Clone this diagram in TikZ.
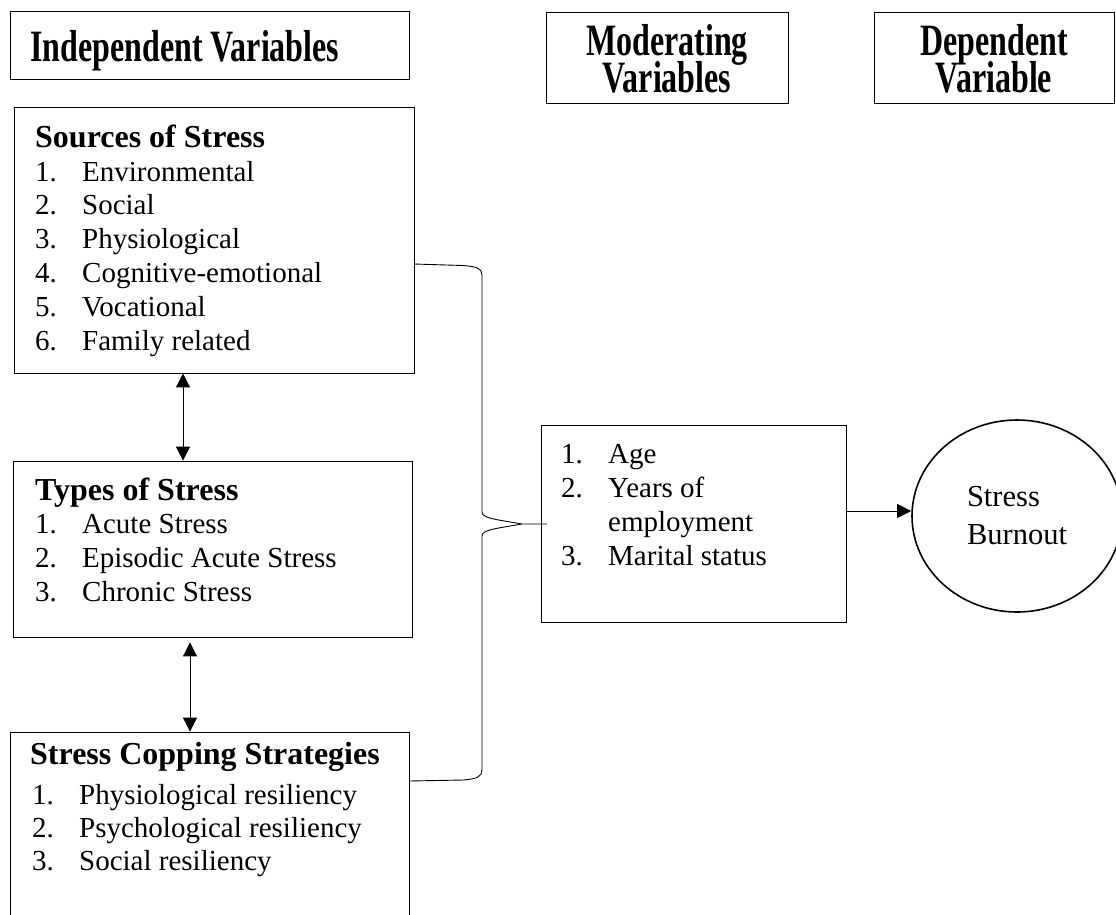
\documentclass[tikz,border=0pt]{standalone}
\usepackage{fontspec}
\setmainfont{Liberation Serif}
\usepackage{graphicx}
\usetikzlibrary{arrows.meta,shapes.geometric,shadows}
\newcommand\lstitem[2]{\makebox[47pt][l]{#1}#2}
\newcommand\tightlines{\setlength{\lineskiplimit}{-60pt}}
\begin{document}
\begin{tikzpicture}[x=1pt,y=-1pt,
  frame/.style={draw, line width=0.9pt, inner sep=0pt, fill=white},
  hframe/.style={frame, drop shadow={shadow xshift=1.3pt, shadow yshift=-1.3pt, fill=black!70, opacity=1}},
  body/.style={inner sep=0pt, anchor=base west, font=\fontsize{29}{34}\selectfont},
  ttl/.style={inner sep=0pt, anchor=base west, font=\fontsize{32}{38}\selectfont\bfseries},
  hdr/.style={inner sep=0pt, align=center, font={\fontsize{32}{37}\selectfont\bfseries\tightlines}},
  brace/.style={line width=0.9pt},
  arr/.style={line width=1pt, -{Triangle[length=14pt,width=14pt]}},
  dblarr/.style={line width=1pt, {Triangle[length=14pt,width=14pt]}-{Triangle[length=14pt,width=14pt]}}
]
\useasboundingbox (0,0) rectangle (1116,914);

% headers
\node[hframe, minimum width=399pt, minimum height=68pt] (h1) at (209.5,45) {};
\node[hdr, anchor=base west] (h1t) at (30,61) {\scalebox{1}[1.4]{Independent Variables}};
\node[hframe, minimum width=242pt, minimum height=91pt] (h2) at (667,57.5) {};
\node[hdr] (h2t) at (667,58.4) {\scalebox{1}[1.4]{Moderating}\\\scalebox{1}[1.4]{Variables}};
\node[hframe, minimum width=240pt, minimum height=91pt] (h3) at (994,57.5) {};
\node[hdr] (h3t) at (994,58.4) {\scalebox{1}[1.4]{Dependent}\\\scalebox{1}[1.4]{Variable}};

% sources of stress
\node[frame, minimum width=400pt, minimum height=266pt] (src) at (214,240) {};
\node[ttl] (s0) at (35,147) {Sources of Stress};
\foreach \nn/\txt/\yy in {1/Environmental/181, 2/Social/214, 3/Physiological/248, 4/Cognitive-emotional/282, 5/Vocational/316, 6/Family related/350}
  \node[body] (s\nn) at (35,\yy) {\lstitem{\nn.}{\txt}};

% types of stress
\node[frame, minimum width=399pt, minimum height=176pt] (typ) at (212.5,549) {};
\node[ttl] (t0) at (35,500) {Types of Stress};
\foreach \nn/\txt/\yy in {1/Acute Stress/533, 2/Episodic Acute Stress/567, 3/Chronic Stress/601}
  \node[body] (t\nn) at (35,\yy) {\lstitem{\nn.}{\txt}};

% coping strategies
\node[frame, minimum width=399pt, minimum height=210pt] (cop) at (209.5,837) {};
\node[ttl] (c0) at (30,764) {Stress Copping Strategies};
\foreach \nn/\txt/\yy in {1/Physiological resiliency/804, 2/Psychological resiliency/837, 3/Social resiliency/870}
  \node[body] (c\nn) at (32,\yy) {\lstitem{\nn.}{\txt}};

% moderating variables
\node[frame, minimum width=305pt, minimum height=197pt] (mod) at (693.5,523.5) {};
\node[body] (m1) at (561,463) {\lstitem{1.}{Age}};
\node[body] (m2) at (561,497) {\lstitem{2.}{Years of}};
\node[body] (m2b) at (561,531) {\lstitem{}{employment}};
\node[body] (m3) at (561,565) {\lstitem{3.}{Marital status}};

% dependent variable
\node[draw, ellipse, line width=1.6pt, minimum width=210pt, minimum height=192pt, inner sep=0pt, align=left, font=\fontsize{30.5}{38}\selectfont] (burn) at (1017,516) {Stress\\Burnout};

% brace connector
\coordinate (bt) at (414,264);
\coordinate (tip) at (547,524);
\coordinate (bb) at (409,781);
\draw[brace] (bt) -- (463,265.5) .. controls (477,266.5) and (482,268.5) .. (482,275) -- (482,512) .. controls (482,518.5) and (497,519.5) .. (522,524) -- (tip) -- (522,524) .. controls (497,528.5) and (482,529.5) .. (482,536) -- (482,770) .. controls (482,776.5) and (477,779) .. (463,780) -- (bb);

% arrows
\coordinate (ax1) at (183,0);
\coordinate (ax2) at (190,0);
\coordinate (ay) at (0,511);
\draw[dblarr] (src.south -| ax1) -- (typ.north -| ax1);
\draw[dblarr, shorten <=5pt] (typ.south -| ax2) -- (cop.north -| ax2);
\draw[arr] (mod.east |- ay) -- (burn.west |- ay);
\end{tikzpicture}
\end{document}
